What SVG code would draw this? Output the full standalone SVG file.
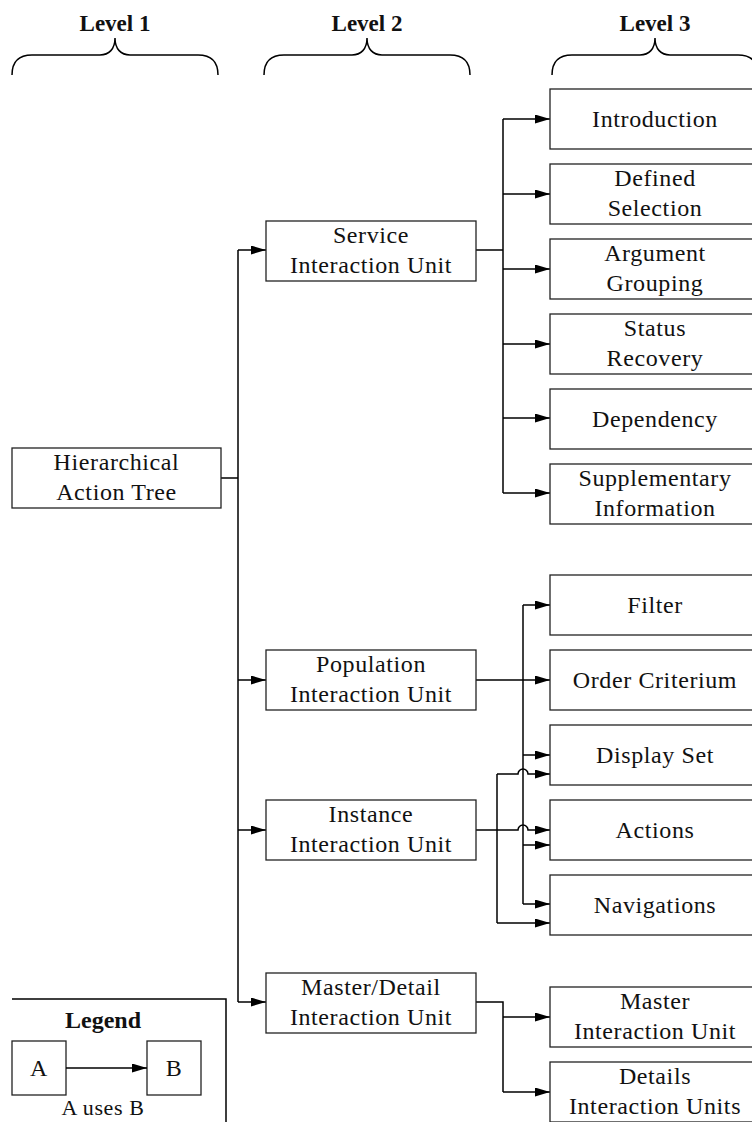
<svg xmlns="http://www.w3.org/2000/svg" width="752" height="1122" viewBox="0 0 752 1122">
<style>
text{font-family:"Liberation Serif","Times New Roman",serif;font-size:24px;fill:#111;text-anchor:middle;letter-spacing:0.6px}
.hdr{font-weight:bold;font-size:23px;letter-spacing:0}
.box{fill:#fff;stroke:#222;stroke-width:1.3}
.con{fill:none;stroke:#000;stroke-width:1.5}
.br{fill:none;stroke:#000;stroke-width:1.5}
</style>
<defs>
<marker id="ah" markerUnits="userSpaceOnUse" markerWidth="16" markerHeight="10" refX="15" refY="4.5" orient="auto">
<path d="M0,0 L15,4.5 L0,9 z" fill="#000"/>
</marker>
<path id="brace" d="M0,37 C0,24 6,17 20,17 L88,17 C97,17 103,11 103,0 C103,11 109,17 118,17 L186,17 C200,17 206,24 206,37"/>
</defs>
<g id="headers">
<text class="hdr" x="115" y="31">Level 1</text>
<text class="hdr" x="367" y="31">Level 2</text>
<text class="hdr" x="655" y="31">Level 3</text>
<use href="#brace" class="br" transform="translate(12,38)"/>
<use href="#brace" class="br" transform="translate(264,38)"/>
<use href="#brace" class="br" transform="translate(552,38)"/>
</g>
<g id="connectors">
<path class="con" d="M221,478 H238 M238,250 V1002"/>
<path class="con" d="M238,250 H266" marker-end="url(#ah)"/>
<path class="con" d="M238,680 H266" marker-end="url(#ah)"/>
<path class="con" d="M238,830 H266" marker-end="url(#ah)"/>
<path class="con" d="M238,1002 H266" marker-end="url(#ah)"/>
<path class="con" d="M476,250 H503 M503,119 V493"/>
<path class="con" d="M503,119 H550" marker-end="url(#ah)"/>
<path class="con" d="M503,194 H550" marker-end="url(#ah)"/>
<path class="con" d="M503,269 H550" marker-end="url(#ah)"/>
<path class="con" d="M503,344 H550" marker-end="url(#ah)"/>
<path class="con" d="M503,418 H550" marker-end="url(#ah)"/>
<path class="con" d="M503,493 H550" marker-end="url(#ah)"/>
<path class="con" d="M523,605 V904"/>
<path class="con" d="M523,605 H550" marker-end="url(#ah)"/>
<path class="con" d="M476,680 H550" marker-end="url(#ah)"/>
<path class="con" d="M523,755 H550" marker-end="url(#ah)"/>
<path class="con" d="M523,845 H550" marker-end="url(#ah)"/>
<path class="con" d="M523,904 H550" marker-end="url(#ah)"/>
<path class="con" d="M497,774 V923"/>
<path class="con" d="M497,774 H518 A5,5 0 0 1 528,774 H550" marker-end="url(#ah)"/>
<path class="con" d="M476,830 H518 A5,5 0 0 1 528,830 H550" marker-end="url(#ah)"/>
<path class="con" d="M497,923 H550" marker-end="url(#ah)"/>
<path class="con" d="M476,1002 H503 V1092"/>
<path class="con" d="M503,1017 H550" marker-end="url(#ah)"/>
<path class="con" d="M503,1092 H550" marker-end="url(#ah)"/>
</g>
<g id="hat"><rect class="box" x="12" y="448" width="209" height="60"/><text x="116.5" y="470">Hierarchical</text><text x="116.5" y="500">Action Tree</text></g>
<g id="siu"><rect class="box" x="266" y="221" width="210" height="60"/><text x="371" y="243">Service</text><text x="371" y="273">Interaction Unit</text></g>
<g id="piu"><rect class="box" x="266" y="650" width="210" height="60"/><text x="371" y="672">Population</text><text x="371" y="702">Interaction Unit</text></g>
<g id="iiu"><rect class="box" x="266" y="800" width="210" height="60"/><text x="371" y="822">Instance</text><text x="371" y="852">Interaction Unit</text></g>
<g id="mdiu"><rect class="box" x="266" y="973" width="210" height="60"/><text x="371" y="995">Master/Detail</text><text x="371" y="1025">Interaction Unit</text></g>
<g id="intro"><rect class="box" x="550" y="89" width="210" height="60"/><text x="655" y="127">Introduction</text></g>
<g id="defsel"><rect class="box" x="550" y="164" width="210" height="60"/><text x="655" y="186">Defined</text><text x="655" y="216">Selection</text></g>
<g id="arggroup"><rect class="box" x="550" y="239" width="210" height="60"/><text x="655" y="261">Argument</text><text x="655" y="291">Grouping</text></g>
<g id="status"><rect class="box" x="550" y="314" width="210" height="60"/><text x="655" y="336">Status</text><text x="655" y="366">Recovery</text></g>
<g id="dep"><rect class="box" x="550" y="389" width="210" height="60"/><text x="655" y="427">Dependency</text></g>
<g id="supp"><rect class="box" x="550" y="464" width="210" height="60"/><text x="655" y="486">Supplementary</text><text x="655" y="516">Information</text></g>
<g id="filter"><rect class="box" x="550" y="575" width="210" height="60"/><text x="655" y="613">Filter</text></g>
<g id="order"><rect class="box" x="550" y="650" width="210" height="60"/><text x="655" y="688">Order Criterium</text></g>
<g id="display"><rect class="box" x="550" y="725" width="210" height="60"/><text x="655" y="763">Display Set</text></g>
<g id="actions"><rect class="box" x="550" y="800" width="210" height="60"/><text x="655" y="838">Actions</text></g>
<g id="nav"><rect class="box" x="550" y="875" width="210" height="60"/><text x="655" y="913">Navigations</text></g>
<g id="master"><rect class="box" x="550" y="987" width="210" height="60"/><text x="655" y="1009">Master</text><text x="655" y="1039">Interaction Unit</text></g>
<g id="details"><rect class="box" x="550" y="1062" width="210" height="60"/><text x="655" y="1084">Details</text><text x="655" y="1114">Interaction Units</text></g>
<g id="legend">
<path class="con" d="M12,999 H226 V1122"/>
<text class="hdr" x="103" y="1028" style="font-size:24px">Legend</text>
<rect class="box" x="12" y="1041" width="54" height="54"/><text x="39" y="1076">A</text>
<rect class="box" x="147" y="1041" width="54" height="54"/><text x="174" y="1076">B</text>
<path class="con" d="M66,1068 H147" marker-end="url(#ah)"/>
<text x="103" y="1115" style="font-size:22px">A uses B</text>
</g>
</svg>
